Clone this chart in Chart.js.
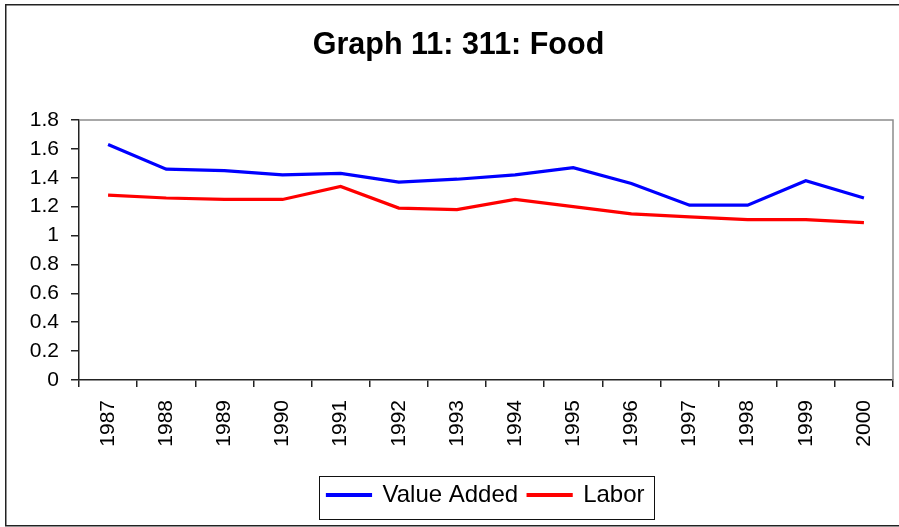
<!DOCTYPE html>
<html>
<head>
<meta charset="utf-8">
<script src="https://cdn.jsdelivr.net/npm/chart.js@4/dist/chart.umd.min.js"></script>
<style>
  html, body { margin: 0; padding: 0; background: #fff; }
  #wrap { width: 899px; height: 527px; }
</style>
</head>
<body>
<div id="wrap"><canvas id="c" width="899" height="527"></canvas></div>
<script>
const years = ['1987','1988','1989','1990','1991','1992','1993','1994','1995','1996','1997','1998','1999','2000'];
const valueAdded = [1.63, 1.46, 1.45, 1.42, 1.43, 1.37, 1.39, 1.42, 1.47, 1.36, 1.21, 1.21, 1.38, 1.26];
const labor = [1.28, 1.26, 1.25, 1.25, 1.34, 1.19, 1.18, 1.25, 1.20, 1.15, 1.13, 1.11, 1.11, 1.09];
const yMin = 0, yMax = 1.8, yStep = 0.2;
const titleText = 'Graph 11: 311: Food';

const FONT = '"Liberation Sans", Arial, Helvetica, sans-serif';

const framePlugin = {
  id: 'frames',
  afterUpdate(chart) {
    // centre the legend under the plot area
    const lg = chart.legend;
    if (lg && lg.legendHitBoxes) {
      const a = chart.chartArea;
      const dx = (a.left + a.right) / 2 - (lg.left + lg.right) / 2;
      lg.left += dx; lg.right += dx;
      lg.legendHitBoxes.forEach(h => { h.left += dx; });
    }
    const tt = chart.titleBlock;
    if (tt) {
      const dx = 458.5 - (tt.left + tt.right) / 2;
      tt.left += dx; tt.right += dx;
    }
  },
  beforeDraw(chart) {
    const ctx = chart.ctx;
    ctx.save();
    ctx.fillStyle = '#fff';
    ctx.fillRect(0, 0, chart.width, chart.height);
    ctx.strokeStyle = '#222';
    ctx.lineWidth = 1.5;
    ctx.strokeRect(5.75, 4.75, 900, 521);
    ctx.restore();
  },
  beforeDatasetsDraw(chart) {
    const a = chart.chartArea;
    const ctx = chart.ctx;
    ctx.save();
    ctx.strokeStyle = '#8c8c8c';
    ctx.lineWidth = 1.5;
    ctx.beginPath();
    ctx.moveTo(a.left, a.top);
    ctx.lineTo(a.right, a.top);
    ctx.lineTo(a.right, a.bottom);
    ctx.stroke();
    ctx.restore();
  },
  afterDraw(chart) {
    const lg = chart.legend;
    if (!lg || !lg.legendHitBoxes || !lg.legendHitBoxes.length) return;
    const hb = lg.legendHitBoxes;
    let l = Infinity, r = -Infinity, t = Infinity;
    hb.forEach(h => { l = Math.min(l, h.left); r = Math.max(r, h.left + h.width); t = Math.min(t, h.top); });
    const ctx = chart.ctx;
    ctx.save();
    ctx.strokeStyle = '#111';
    ctx.lineWidth = 1;
    ctx.strokeRect(Math.round(l - 8) + 0.5, Math.round(t - 7) + 0.5, Math.round(r - l + 18), 43);
    ctx.restore();
  }
};

new Chart(document.getElementById('c'), {
  type: 'line',
  data: {
    labels: years,
    datasets: [
      { label: 'Value Added', data: valueAdded, borderColor: '#0000ff', backgroundColor: '#0000ff', borderWidth: 3.2, pointRadius: 0, tension: 0, fill: false },
      { label: 'Labor', data: labor, borderColor: '#ff0000', backgroundColor: '#ff0000', borderWidth: 3.2, pointRadius: 0, tension: 0, fill: false }
    ]
  },
  options: {
    responsive: false,
    animation: false,
    devicePixelRatio: 1,
    layout: { padding: { left: 10, right: 6, top: 0, bottom: 10 } },
    plugins: {
      tooltip: { enabled: false },
      title: {
        display: true,
        text: titleText,
        color: '#000',
        font: { family: FONT, size: 30.5, weight: 'bold', lineHeight: 1.2 },
        padding: { top: 27, bottom: 56.4 }
      },
      legend: {
        display: true,
        position: 'bottom',
        labels: {
          color: '#000',
          font: { family: FONT, size: 24, lineHeight: 1.2 },
          boxWidth: 43,
          boxHeight: 1,
          padding: 10
        }
      }
    },
    scales: {
      x: {
        offset: true,
        grid: { display: true, offset: true, drawOnChartArea: false, drawTicks: true, tickLength: 7, color: '#222', lineWidth: 1.5 },
        border: { display: true, color: '#222', width: 1.5 },
        ticks: { color: '#000', font: { family: FONT, size: 21 }, minRotation: 90, maxRotation: 90, padding: 13, autoSkip: false },
        afterFit(scale) { scale.height = 93; scale.paddingLeft = 0; scale.paddingRight = 0; }
      },
      y: {
        min: yMin,
        max: yMax,
        grid: { display: true, drawOnChartArea: false, drawTicks: true, tickLength: 8, color: '#222', lineWidth: 1.5 },
        border: { display: true, color: '#222', width: 1.5 },
        ticks: {
          stepSize: yStep,
          color: '#000',
          font: { family: FONT, size: 21 },
          padding: 12,
          callback: v => String(+Number(v).toFixed(1))
        },
        afterFit(scale) { scale.width = 69; }
      }
    }
  },
  plugins: [framePlugin]
});
</script>
</body>
</html>
